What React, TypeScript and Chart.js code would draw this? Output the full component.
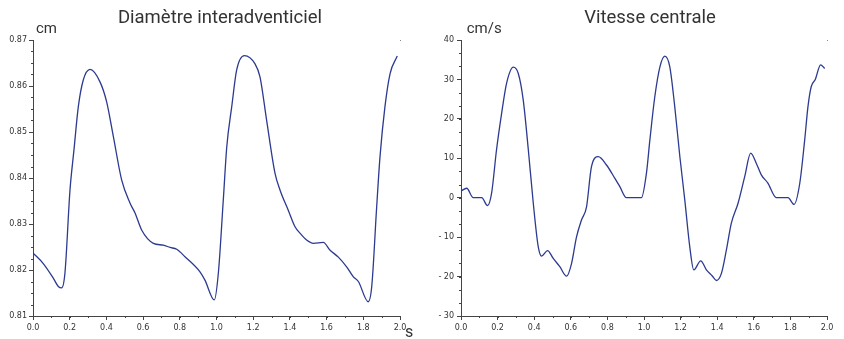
import React, { useEffect, useRef } from "react";
import { Chart, registerables } from "chart.js";

Chart.register(...registerables);

// ---- Data: Diamètre interadventiciel (cm) ----
const diamTime = [
  0.0, 0.056, 0.111, 0.138, 0.156, 0.174, 0.2016, 0.223, 0.247, 0.274, 0.311,
  0.365, 0.401, 0.438, 0.483, 0.529, 0.556, 0.592, 0.656, 0.71, 0.747, 0.783,
  0.828, 0.91, 0.937, 0.988, 1.01, 1.037, 1.056, 1.083, 1.11, 1.152, 1.21,
  1.237, 1.273, 1.319, 1.346, 1.391, 1.428, 1.455, 1.491, 1.528, 1.582, 1.619,
  1.664, 1.709, 1.746, 1.773, 1.827, 1.846, 1.873, 1.891, 1.918, 1.946, 1.985,
];
const diamValues = [
  0.8237, 0.8214, 0.8182, 0.8164, 0.8161, 0.8193, 0.8374, 0.846, 0.8555, 0.8613,
  0.8636, 0.8609, 0.8566, 0.849, 0.8396, 0.8345, 0.8324, 0.8287, 0.8258, 0.8254,
  0.8249, 0.8245, 0.8229, 0.8196, 0.8178, 0.8135, 0.8193, 0.8352, 0.8468,
  0.8555, 0.8635, 0.8666, 0.8648, 0.862, 0.8526, 0.841, 0.8374, 0.833, 0.8294,
  0.828, 0.8265, 0.8258, 0.826, 0.8243, 0.8228, 0.8207, 0.8185, 0.8175, 0.8131,
  0.8164, 0.8338, 0.8446, 0.8555, 0.8627, 0.8665,
];

// ---- Data: Vitesse centrale (cm/s) ----
const velTime = [
  0.0, 0.031, 0.067, 0.113, 0.145, 0.167, 0.194, 0.222, 0.249, 0.286, 0.313,
  0.34, 0.368, 0.395, 0.422, 0.44, 0.473, 0.504, 0.54, 0.577, 0.604, 0.631,
  0.658, 0.686, 0.713, 0.75, 0.795, 0.841, 0.868, 0.904, 0.986, 1.013, 1.032,
  1.059, 1.087, 1.114, 1.141, 1.168, 1.196, 1.223, 1.25, 1.272, 1.31, 1.341,
  1.372, 1.396, 1.423, 1.45, 1.477, 1.514, 1.55, 1.583, 1.614, 1.641, 1.677,
  1.723, 1.787, 1.82, 1.851, 1.878, 1.896, 1.914, 1.936, 1.965, 1.987,
];
const velValues = [
  1.7, 2.4, 0, 0, -2.0, 1.1, 12.1, 21.4, 29, 33.1, 31.5, 24.8, 12.1, -1.4, -12.4,
  -14.8, -13.4, -15.4, -17.5, -19.9, -16.7, -10.0, -5.7, -2.3, 7.9, 10.4, 8.3,
  4.9, 2.8, 0, 0, 6.1, 14.6, 25.6, 33.2, 35.9, 33.2, 23.1, 10.4, -0.6, -12.4,
  -18.3, -16.0, -18.3, -19.8, -21.0, -19.2, -13.3, -6.5, -1.4, 5.3, 11.3, 8.7,
  5.8, 3.7, 0, 0, -1.7, 3.6, 14.6, 23.1, 28.2, 30.0, 33.7, 32.8,
];

const LINE_COLOR = "#2c3a8f";
const AXIS_COLOR = "#444";
const TEXT_COLOR = "#333";

type Cfg = {
  title: string;
  unit: string;
  xUnit?: string;
  titleDx: number;
  unitDx: number;
  minorX: number;
  minorY: number;
};

function decorPlugin(cfg: Cfg) {
  return {
    id: "decor",
    afterDraw(chart: any) {
      const ctx = chart.ctx as CanvasRenderingContext2D;
      const { left, right, top, bottom } = chart.chartArea;
      const xs = chart.scales.x;
      const ys = chart.scales.y;
      ctx.save();
      ctx.strokeStyle = AXIS_COLOR;
      ctx.lineWidth = 1;
      const nx = Math.round((xs.max - xs.min) / cfg.minorX);
      for (let i = 0; i <= nx; i++) {
        const p = Math.round(xs.getPixelForValue(xs.min + i * cfg.minorX)) + 0.5;
        ctx.beginPath();
        ctx.moveTo(p, bottom);
        ctx.lineTo(p, bottom + 2);
        ctx.stroke();
      }
      const ny = Math.round((ys.max - ys.min) / cfg.minorY);
      for (let i = 0; i <= ny; i++) {
        const p = Math.round(ys.getPixelForValue(ys.min + i * cfg.minorY)) + 0.5;
        ctx.beginPath();
        ctx.moveTo(left, p);
        ctx.lineTo(left - 2, p);
        ctx.stroke();
      }
      ctx.fillStyle = TEXT_COLOR;
      ctx.textBaseline = "alphabetic";
      ctx.font = "18.5px Roboto";
      ctx.textAlign = "center";
      ctx.fillText(cfg.title, (left + right) / 2 + cfg.titleDx, 23);
      ctx.font = "15px Roboto";
      ctx.textAlign = "left";
      ctx.fillText(cfg.unit, left + cfg.unitDx, 33);
      if (cfg.xUnit) {
        ctx.font = "16px Roboto";
        ctx.fillText(cfg.xUnit, right + 5, 337);
      }
      ctx.fillStyle = "#888";
      ctx.fillRect(right, top, 1, 1);
      ctx.restore();
    },
  };
}

function makeConfig(
  xs: number[],
  ys: number[],
  yMin: number,
  yMax: number,
  yStep: number,
  yFmt: (v: number) => string,
  yWidth: number,
  padRight: number,
  tickPad: number,
  cfg: Cfg
): any {
  const tickFont = { family: "DejaVu Sans", size: 8 };
  return {
    type: "line",
    data: {
      datasets: [
        {
          data: xs.map((x, i) => ({ x, y: ys[i] })),
          borderColor: LINE_COLOR,
          borderWidth: 1.3,
          pointRadius: 0,
          fill: false,
          cubicInterpolationMode: "monotone",
          tension: 0.4,
        },
      ],
    },
    options: {
      animation: false,
      responsive: false,
      maintainAspectRatio: false,
      layout: { padding: { top: 40, right: padRight, left: 0, bottom: 0 } },
      plugins: { legend: { display: false }, tooltip: { enabled: false }, title: { display: false } },
      scales: {
        x: {
          type: "linear",
          min: 0,
          max: 2,
          afterFit: (s: any) => {
            s.height = 23;
          },
          border: { color: AXIS_COLOR, width: 1 },
          grid: { drawOnChartArea: false, drawTicks: true, tickLength: 4, color: AXIS_COLOR },
          ticks: {
            stepSize: 0.2,
            padding: 3,
            color: TEXT_COLOR,
            font: tickFont,
            maxRotation: 0,
            autoSkip: false,
            callback: (v: any) => Number(v).toFixed(1),
          },
        },
        y: {
          type: "linear",
          min: yMin,
          max: yMax,
          afterFit: (s: any) => {
            s.width = yWidth;
          },
          border: { color: AXIS_COLOR, width: 1 },
          grid: { drawOnChartArea: false, drawTicks: true, tickLength: 4, color: AXIS_COLOR },
          ticks: {
            stepSize: yStep,
            padding: tickPad,
            color: TEXT_COLOR,
            font: tickFont,
            autoSkip: false,
            callback: (v: any) => yFmt(Number(v)),
          },
        },
      },
    },
    plugins: [decorPlugin(cfg)],
  };
}

export default function App() {
  const leftRef = useRef<HTMLCanvasElement>(null);
  const rightRef = useRef<HTMLCanvasElement>(null);

  useEffect(() => {
    const c1 = new Chart(
      leftRef.current!,
      makeConfig(
        diamTime,
        diamValues,
        0.81,
        0.87,
        0.01,
        (v) => v.toFixed(2),
        33,
        20,
        2,
        {
          title: "Diamètre interadventiciel",
          unit: "cm",
          xUnit: "s",
          titleDx: 3.5,
          unitDx: 3,
          minorX: 0.1,
          minorY: 0.0025,
        }
      )
    );
    const c2 = new Chart(
      rightRef.current!,
      makeConfig(
        velTime,
        velValues,
        -30,
        40,
        10,
        (v) => (v < 0 ? "- " + Math.abs(Math.round(v)) : String(Math.round(v))),
        41,
        17,
        3,
        {
          title: "Vitesse centrale",
          unit: "cm/s",
          titleDx: 6,
          unitDx: 5.7,
          minorX: 0.1,
          minorY: 10 / 3,
        }
      )
    );
    return () => {
      c1.destroy();
      c2.destroy();
    };
  }, []);

  return (
    <div
      style={{
        position: "fixed",
        left: 0,
        top: 0,
        width: 844,
        height: 339,
        background: "#fff",
        overflow: "hidden",
      }}
    >
      <canvas
        ref={leftRef}
        width={420}
        height={339}
        style={{ position: "absolute", left: 0, top: 0, width: 420, height: 339 }}
      />
      <canvas
        ref={rightRef}
        width={424}
        height={339}
        style={{ position: "absolute", left: 420, top: 0, width: 424, height: 339 }}
      />
    </div>
  );
}
